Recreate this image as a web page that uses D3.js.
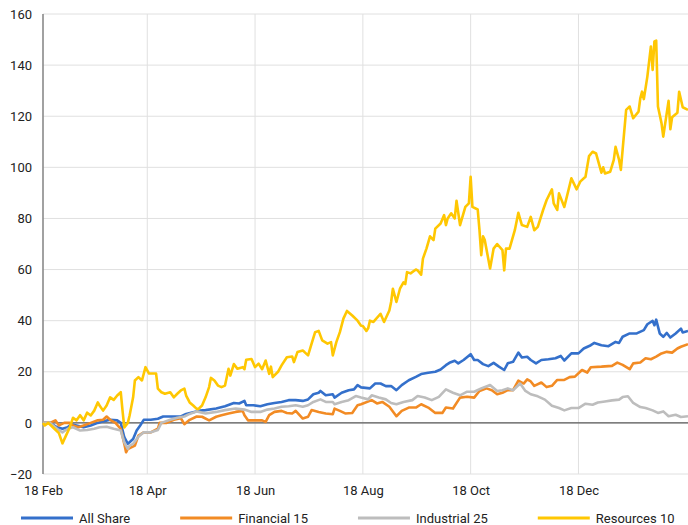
<!DOCTYPE html>
<head>
  <meta charset="utf-8">
  <script src="https://d3js.org/d3.v7.min.js"></script>
  <style>
body { margin: 0; background: #fff; }
svg { display: block; font-family: Roboto, "Noto Sans", sans-serif; }
  </style>
</head>
<body>
<svg width="688" height="525"></svg>
<script>
// day offsets are counted from 18 Feb
var seriesNames = ["All Share", "Financial 15", "Industrial 25", "Resources 10"];
var seriesColors = ["#3470cb", "#f28b24", "#bdbdbd", "#ffc702"];
var tickDates = ["2009-02-18", "2009-04-18", "2009-06-18", "2009-08-18", "2009-10-18", "2009-12-18"];
var tickLabels = ["18 Feb", "18 Apr", "18 Jun", "18 Aug", "18 Oct", "18 Dec"];
var yTicks = [-20, 0, 20, 40, 60, 80, 100, 120, 140, 160];

var allShareDays = [0,4,8,11,14,16,19,23,27,31,34,38,42,44,46,48,49,51,53,55,57,61,65,68,72,76,78,81,85,
  89,92,98,103,108,111,114,115,119,123,127,131,135,139,143,147,150,153,156,157,160,164,165,169,173,176,178,180,
  185,188,191,194,197,200,203,207,211,214,218,222,225,228,230,233,235,238,242,244,246,249,252,255,258,261,263,266,
  269,271,274,276,279,282,286,290,293,295,299,303,306,310,312,316,320,324,326,328,332,336,340,342,345,346,347,349,
  351,353,355,358,361,362,365];
var allShareVals = [0,0,-1.7,-2.3,-1.7,-0.5,-1,-1.7,-1,0,0.6,1.2,1,0,-5.6,-8.2,-7.6,-6.3,-3,-1,1.2,1.2,1.6,2.5,2.5,2.5,2.5,3.5,4.2,
  4.8,5,5.6,6.5,7.8,7.6,8.6,6.9,6.9,6.5,7.3,7.8,8.2,8.9,8.9,8.6,9.2,11.2,11.8,12.5,10.8,11.2,9.9,11.8,12.8,13.1,14.8,13.9,
  13.5,15.4,15.4,14.4,14.4,12.8,14.8,16.7,18,19.1,19.6,20,20.9,22.6,23.5,24.3,23.3,24.6,26.9,24.6,24.6,23,22.2,23.5,22,20.7,23.3,23.9,
  27.5,25.6,25.9,24.6,23.3,24.6,24.9,25.3,26.2,24.4,27.2,27.2,29.1,30.4,31.3,30.4,30,31.7,31.3,33.7,35,35,36.3,38.6,39.9,38.2,40.4,35,
  33.7,35.2,33.4,35,36.9,35.4,36];

var financialDays = [0,4,7,9,12,15,17,20,23,27,31,34,36,38,41,44,46,47,48,50,52,54,57,61,65,66,70,74,78,80,83,87,
  90,94,98,101,105,109,113,114,116,120,124,126,128,131,135,138,141,143,147,150,152,156,160,164,165,168,171,175,178,180,
  186,189,192,196,200,203,207,211,214,218,222,226,228,232,236,240,244,247,251,254,257,260,263,266,269,272,274,
  276,278,282,285,288,291,295,298,301,305,308,310,316,322,325,328,332,334,338,341,344,347,350,353,356,359,361,365];
var financialVals = [0,0,1,-1,0,0,-1,-1.7,-1,0,1,1.2,2.5,1.2,0,-2.3,-8.2,-11.5,-10.2,-9.6,-8.9,-5,-3.7,-3.7,-2.3,0,0,1.2,1.8,-0.5,1.2,2.5,
  2.4,1,2.4,3,3.7,4.3,4.7,3,1,1,1,0.4,3,4.3,4.7,3.9,3.7,4.7,1.7,2.4,5,4.3,3.7,3.4,5.6,4.7,3.7,3.9,6.9,7.3,
  8.9,7.6,8.2,6.3,2.6,4.7,6,6,7.3,6,3.9,3.9,6,5.6,9.9,10.2,9.9,12.5,13.5,12.8,11.2,11.8,12.8,12.8,16.5,15.4,17,
  16.2,14.5,15.8,14,14.5,16.8,16.8,17.9,18.1,20.7,19.7,21.8,22,22.3,23.6,22.7,21,23.3,23.6,25.3,24.9,25.9,27.2,27.8,27.5,29.1,29.8,30.8];

var industrialDays = [0,4,8,11,14,17,21,25,29,32,36,40,44,46,48,49,51,54,57,61,65,67,72,76,80,83,87,
  92,98,103,109,114,118,123,127,131,135,139,143,147,150,153,157,160,164,165,169,173,177,180,184,
  186,190,194,197,200,204,209,212,216,220,224,228,232,236,240,244,248,253,257,260,263,266,270,273,276,
  280,284,288,292,295,299,303,307,311,314,318,322,326,328,331,334,338,341,345,348,351,354,358,361,365];
var industrialVals = [0,0,-2.3,-3.7,-2.3,-1.7,-3,-2.8,-2.3,-1.7,-1.5,-2.3,-3,-7.6,-10.2,-8.9,-8.2,-5.4,-3.7,-3.7,-2.8,0,1.2,2,2.5,3.5,4.5,
  3.7,4.3,5,5.6,5.2,4.3,4.3,5.2,5.6,6.3,6.5,6.9,6.3,6.9,8.2,9.2,8.2,8.2,7.3,8.2,8.9,10.5,9.9,9.2,
  10.8,9.9,9.2,7.8,7.3,8.2,8.9,10.5,9.9,8.9,10.2,13.1,11.8,10.8,12.2,12.2,13.5,14.8,12.5,12.8,13.5,12.8,15.4,12.5,11.2,
  10.4,9.1,6.7,5.8,4.9,5.8,5.8,7.5,7.1,8,8.4,8.8,9.1,10.1,10.4,7.8,6.2,5.8,4.9,3.9,4.5,2.6,3.2,2.3,2.6];

var resourcesDays = [0,1,3,6,9,11,13,15,17,19,21,23,25,27,29,31,32,34,36,38,40,42,44,45,46,48,49,51,52,54,56,58,60,
  64,65,67,69,72,74,76,78,80,81,83,85,87,88,90,92,94,95,97,99,101,103,105,106,108,110,113,114,115,118,120,122,124,126,
  128,129,130,133,135,138,141,142,144,147,148,150,152,154,156,158,161,163,164,166,168,170,172,175,178,180,181,183,184,185,
  187,191,193,196,197,198,200,202,204,205,206,208,211,212,214,215,217,219,221,222,225,227,228,229,231,233,234,236,239,241,
  242,243,246,247,248,249,250,253,255,257,260,261,262,264,267,269,271,274,276,278,280,283,285,288,289,291,292,295,299,302,
  304,307,309,311,313,316,317,318,321,323,324,326,327,328,330,332,334,337,338,339,340,342,344,345,346,347,348,350,351,354,
  355,356,359,360,362,365];
var resourcesVals = [0,-1,0,-2,-4,-8,-5,-2,2,1,3,1,4,2.9,4.8,8,6.8,4.8,6.8,10,9,10.7,12,4.8,-1.8,0,2.9,10,16.6,17.9,16.6,21.8,19.3,
  19.3,13.4,12,11.4,12,10,11.4,12.7,13.4,10.7,8,6.8,5.5,5.5,6.8,10,14,17.6,16.6,14.6,14,14.6,21.2,18.5,23,21.2,21.8,21,24.7,25,21.8,23.2,21,24.4,
  19.2,22,17.9,20,22.5,25.7,26,23.8,27.7,28.3,27.7,26.4,31,35.5,36,32.3,31,31.6,26.4,31.6,35.5,40.8,43.8,42,40,38,37.9,36,37,40,
  39.5,42.7,39.5,44,47.3,52.5,47.3,52.5,55,54.3,59,58.5,60,59.7,58,64.3,68.2,73,71.5,76,78,81.3,77.4,80,82,80,86.9,77.4,84.5,85.9,
  96.3,84.5,83.5,75.4,65.6,73,71.5,60.4,68.2,70,67.6,59.7,68.2,68.2,75.4,82.2,77.4,76.7,80.6,75.4,76.7,83.3,87.2,91.4,85.9,83.3,89.8,84.5,95.7,91.4,
  94.4,96.3,104.4,106.1,105.4,97.9,100,97.6,98.3,102.9,108,102.9,99,106.8,122.5,123.8,119.2,121.8,127,129.6,126.7,135.5,147.3,138.1,149.3,149.6,123.8,117.3,112,126,
  114.9,119.6,121.4,129.6,123.5,122.5];

var seriesDays = [allShareDays, financialDays, industrialDays, resourcesDays];
var seriesVals = [allShareVals, financialVals, industrialVals, resourcesVals];

var svg = d3.select("svg");
var start = new Date(2009, 1, 18);
function dayDate(d) { return new Date(start.getTime() + d * 864e5); }
var parse = d3.timeParse("%Y-%m-%d");

var x = d3.scaleTime()
    .domain([start, new Date(2010, 1, 18)])
    .range([43, 688]);
var y = d3.scaleLinear()
    .domain([-20, 160])
    .range([474, 14]);

// grid
svg.append("g").selectAll("line")
  .data(yTicks)
  .enter().append("line")
    .attr("x1", 43).attr("x2", 688)
    .attr("y1", function(d) { return y(d); })
    .attr("y2", function(d) { return y(d); })
    .attr("stroke", "#e0e0e0");

svg.append("g").selectAll("line")
  .data(tickDates.slice(1))
  .enter().append("line")
    .attr("x1", function(d) { return x(parse(d)); })
    .attr("x2", function(d) { return x(parse(d)); })
    .attr("y1", y(160)).attr("y2", y(-20))
    .attr("stroke", "#e0e0e0");

// zero line and left axis line
svg.append("line")
    .attr("x1", 43).attr("x2", 688)
    .attr("y1", y(0)).attr("y2", y(0))
    .attr("stroke", "#5a5a5a").attr("stroke-width", 1.4);
svg.append("line")
    .attr("x1", 43).attr("x2", 43)
    .attr("y1", y(160)).attr("y2", y(-20))
    .attr("stroke", "#8a8a8a").attr("stroke-width", 1.6);

// axes labels
var yAxis = svg.append("g")
    .attr("transform", "translate(32,0)")
    .call(d3.axisLeft(y).tickValues(yTicks).tickSize(0).tickPadding(0));
yAxis.select(".domain").remove();
yAxis.selectAll("text")
    .attr("font-family", "Roboto, sans-serif")
    .attr("font-size", 13)
    .attr("fill", "#222");

var xAxis = svg.append("g")
    .attr("transform", "translate(0," + y(-20) + ")")
    .call(d3.axisBottom(x)
      .tickValues(tickDates.map(parse))
      .tickSize(0)
      .tickPadding(12)
      .tickFormat(function(d, i) { return tickLabels[i]; }));
xAxis.select(".domain").remove();
xAxis.selectAll("text")
    .attr("font-family", "Roboto, sans-serif")
    .attr("font-size", 13)
    .attr("fill", "#222");

// series
var line = d3.line()
    .x(function(d) { return x(dayDate(d[0])); })
    .y(function(d) { return y(d[1]); });

seriesNames.forEach(function(name, i) {
  var pts = seriesDays[i].map(function(d, j) { return [d, seriesVals[i][j]]; });
  svg.append("path")
      .datum(pts)
      .attr("fill", "none")
      .attr("stroke", seriesColors[i])
      .attr("stroke-width", 2.6)
      .attr("stroke-linejoin", "round")
      .attr("d", line);
});

// legend
var legend = svg.append("g").attr("transform", "translate(0,518)");
var lx = 21;
seriesNames.forEach(function(name, i) {
  var g = legend.append("g").attr("transform", "translate(" + lx + ",0)");
  g.append("line")
      .attr("x1", 0).attr("x2", 52)
      .attr("stroke", seriesColors[i])
      .attr("stroke-width", 3);
  var t = g.append("text")
      .attr("x", 58)
      .attr("dy", "0.35em")
      .attr("font-family", "Roboto, sans-serif")
      .attr("font-size", 13)
      .attr("fill", "#222")
      .text(name);
  lx += 58 + t.node().getComputedTextLength() + 50;
});
</script>
</body>
